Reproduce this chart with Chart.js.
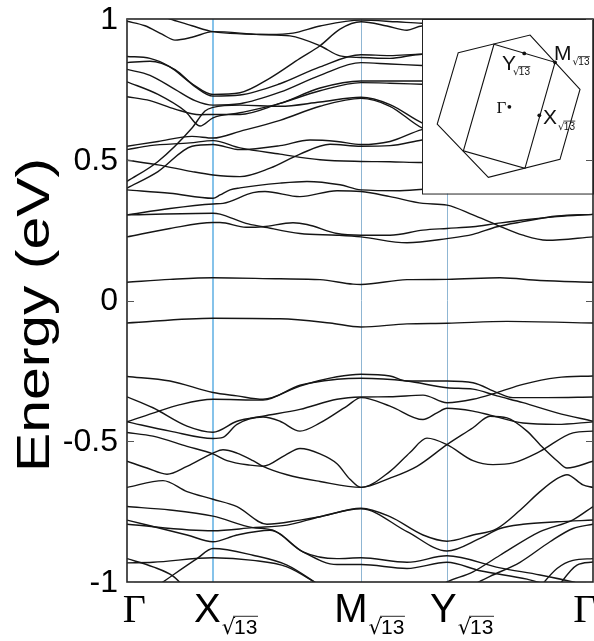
<!DOCTYPE html>
<html><head><meta charset="utf-8">
<script src="https://cdn.jsdelivr.net/npm/chart.js@4"></script>
<style>html,body{margin:0;padding:0;background:#fff}</style>
</head><body>
<canvas id="c" width="594" height="641"></canvas>
<script>
// k-path positions (Γ, X, M, Y, Γ) and labels
const kTicks = [0, 86, 234, 320, 466];
const kLabels = ['Γ', 'X', 'M', 'Y', 'Γ'];
const kSub = [false, true, true, true, false];
const yTicks = [1, 0.5, 0, -0.5, -1];
const yTickText = ['1', '0.5', '0', '-0.5', '-1'];

// bands: [k, energy (eV)]
const bandU01 = [[0,1.04],[23,1.02],[43,1.0],[65,0.976],[86,0.955],[143,0.945],[166,0.95],[193,0.975],[234,0.996],[270,0.99],[295,0.985],[320,1.0],[466,1.04]];
const bandU02 = [[0,0.992],[18,0.976],[35,0.946],[48,0.925],[65,0.935],[86,0.955],[133,0.945],[163,0.94],[193,0.905],[213,0.869],[234,0.863],[263,0.86],[295,0.875],[320,0.87],[466,0.992]];
const bandU03 = [[0,0.867],[23,0.86],[43,0.83],[65,0.77],[86,0.732],[113,0.738],[143,0.79],[173,0.86],[193,0.905],[213,0.964],[234,0.99],[260,0.975],[280,0.96],[295,0.975],[320,0.95],[466,0.867]];
const bandU04 = [[0,0.845],[23,0.85],[48,0.82],[68,0.76],[86,0.726],[113,0.73],[153,0.77],[193,0.83],[234,0.873],[263,0.87],[295,0.875],[320,0.86],[466,0.845]];
const bandU05 = [[0,0.821],[23,0.80],[48,0.75],[68,0.71],[86,0.694],[113,0.699],[153,0.74],[193,0.80],[234,0.845],[263,0.84],[295,0.835],[320,0.83],[466,0.821]];
const bandU06 = [[0,0.777],[31,0.732],[58,0.673],[73,0.62],[86,0.649],[113,0.667],[153,0.70],[193,0.755],[234,0.78],[263,0.78],[295,0.78],[320,0.78],[466,0.777]];
const bandU07 = [[0,0.724],[23,0.71],[48,0.68],[73,0.66],[86,0.661],[113,0.661],[153,0.70],[193,0.745],[234,0.774],[263,0.772],[295,0.768],[320,0.765],[466,0.724]];
const bandU08 = [[0,0.423],[31,0.494],[65,0.613],[78,0.673],[86,0.686],[113,0.694],[153,0.69],[193,0.705],[234,0.722],[263,0.696],[295,0.631],[320,0.60],[466,0.423]];
const bandU09 = [[0,0.548],[31,0.565],[65,0.583],[86,0.577],[113,0.601],[153,0.64],[193,0.69],[234,0.718],[263,0.69],[295,0.613],[320,0.59],[466,0.548]];
const bandU10 = [[0,0.536],[23,0.55],[63,0.56],[86,0.568],[113,0.542],[153,0.52],[193,0.50],[234,0.494],[263,0.493],[295,0.49],[320,0.49],[466,0.536]];
const bandU11 = [[0,0.399],[31,0.458],[65,0.548],[86,0.554],[113,0.536],[153,0.55],[183,0.57],[210,0.565],[234,0.554],[263,0.565],[295,0.607],[320,0.62],[466,0.399]];
const bandU12 = [[0,0.498],[31,0.482],[65,0.458],[86,0.446],[113,0.44],[143,0.47],[173,0.52],[203,0.555],[234,0.548],[263,0.55],[295,0.57],[320,0.58],[466,0.498]];
const bandU13 = [[0,0.393],[43,0.381],[86,0.363],[93,0.375],[103,0.393],[113,0.40],[153,0.417],[180,0.423],[213,0.411],[234,0.393],[273,0.39],[320,0.40],[466,0.393]];
const bandP2 = [[0,0.304],[43,0.327],[86,0.343],[96,0.345],[126,0.383],[138,0.387],[173,0.369],[210,0.39],[234,0.387],[263,0.369],[296,0.345],[320,0.339],[346,0.304],[370,0.268],[396,0.232],[420,0.214],[466,0.226]];
const bandP3 = [[0,0.304],[86,0.31],[93,0.307],[119,0.274],[136,0.262],[173,0.238],[210,0.232],[234,0.226],[280,0.205],[320,0.22],[346,0.235],[370,0.262],[396,0.28],[430,0.30],[466,0.306]];
const bandP4 = [[0,0.226],[43,0.256],[86,0.277],[93,0.277],[119,0.26],[136,0.262],[166,0.276],[180,0.27],[210,0.238],[234,0.232],[263,0.232],[296,0.25],[320,0.256],[346,0.262],[370,0.274],[396,0.286],[430,0.298],[466,0.306]];
const bandF1 = [[0,0.065],[43,0.075],[86,0.081],[153,0.077],[193,0.074],[226,0.058],[234,0.057],[280,0.074],[320,0.075],[373,0.081],[413,0.071],[466,0.065]];
const bandF2 = [[0,-0.080],[86,-0.063],[153,-0.065],[203,-0.08],[234,-0.094],[280,-0.083],[320,-0.081],[380,-0.074],[466,-0.080]];
const bandB1 = [[0,-0.270],[43,-0.286],[86,-0.327],[110,-0.339],[136,-0.351],[173,-0.304],[210,-0.271],[234,-0.262],[263,-0.268],[280,-0.286],[320,-0.286],[346,-0.292],[370,-0.327],[386,-0.345],[420,-0.345],[466,-0.343]];
const bandB2 = [[0,-0.431],[26,-0.40],[53,-0.37],[86,-0.351],[136,-0.354],[173,-0.301],[210,-0.280],[234,-0.276],[280,-0.286],[320,-0.31],[346,-0.315],[370,-0.339],[396,-0.363],[430,-0.399],[466,-0.429]];
const bandB3 = [[0,-0.342],[26,-0.381],[60,-0.446],[86,-0.468],[110,-0.429],[136,-0.411],[173,-0.387],[210,-0.351],[234,-0.343],[263,-0.342],[296,-0.336],[320,-0.363],[346,-0.351],[370,-0.327],[396,-0.298],[430,-0.274],[466,-0.268]];
const bandB4 = [[0,-0.431],[43,-0.464],[86,-0.490],[96,-0.486],[110,-0.44],[136,-0.414],[153,-0.429],[173,-0.464],[193,-0.435],[220,-0.375],[234,-0.345],[263,-0.375],[296,-0.423],[310,-0.399],[320,-0.383],[346,-0.393],[363,-0.407],[396,-0.435],[430,-0.44],[466,-0.431]];
const bandV1 = [[0,-0.469],[26,-0.482],[60,-0.518],[86,-0.545],[100,-0.569],[123,-0.585],[136,-0.589],[158,-0.55],[173,-0.526],[193,-0.545],[210,-0.58],[223,-0.635],[234,-0.664],[263,-0.607],[283,-0.54],[300,-0.489],[320,-0.512],[346,-0.569],[366,-0.583],[386,-0.577],[413,-0.536],[446,-0.47],[466,-0.464]];
const bandV2 = [[0,-0.571],[20,-0.595],[40,-0.617],[60,-0.589],[86,-0.542],[96,-0.53],[110,-0.542],[126,-0.569],[136,-0.589],[160,-0.619],[193,-0.643],[234,-0.664],[263,-0.631],[290,-0.589],[320,-0.512],[346,-0.452],[363,-0.411],[380,-0.417],[400,-0.464],[413,-0.512],[430,-0.569],[440,-0.595],[466,-0.571]];
const bandG1 = [[0,-0.664],[36,-0.64],[60,-0.679],[86,-0.706],[110,-0.732],[140,-0.795],[173,-0.78],[193,-0.768],[234,-0.738],[263,-0.768],[296,-0.833],[320,-0.855],[346,-0.833],[370,-0.81],[393,-0.745],[413,-0.679],[430,-0.633],[440,-0.619],[456,-0.655],[466,-0.664]];
const bandG2 = [[0,-0.732],[43,-0.744],[86,-0.766],[126,-0.807],[146,-0.816],[176,-0.893],[210,-0.917],[234,-0.914],[280,-0.93],[320,-0.907],[373,-0.95],[413,-0.975],[446,-1.0],[466,-1.02]];
const bandG3 = [[0,-0.78],[60,-0.833],[86,-0.857],[110,-0.833],[143,-0.816],[176,-0.893],[210,-0.938],[234,-0.938],[280,-0.952],[320,-0.93],[353,-0.96],[400,-0.99],[430,-1.02]];
const bandG4 = [[0,-0.795],[86,-0.818],[126,-0.807],[160,-0.798],[193,-0.768],[234,-0.74],[280,-0.821],[320,-0.89],[353,-0.845],[373,-0.81],[396,-0.795],[430,-0.786],[466,-0.78]];
const bandR1 = [[305,-1.03],[320,-1.0],[346,-0.964],[373,-0.905],[413,-0.821],[446,-0.779],[466,-0.732]];
const bandR2 = [[335,-1.03],[363,-0.98],[393,-0.93],[423,-0.857],[446,-0.81],[466,-0.795]];
const bandS1 = [[410,-1.03],[430,-0.952],[446,-0.923],[466,-0.917]];
const bandS2 = [[428,-1.03],[450,-0.94],[466,-0.929]];
const bandH1 = [[0,-0.917],[26,-0.946],[46,-0.979],[58,-1.02]];
const bandH2 = [[0,-0.932],[26,-0.93],[86,-0.914],[126,-0.923],[160,-0.946],[192,-1.01]];
const bandH3 = [[28,-1.02],[46,-0.975],[70,-0.917],[86,-0.881],[126,-0.905],[160,-0.94],[192,-1.01]];

const bands = [bandU01,bandU02,bandU03,bandU04,bandU05,bandU06,bandU07,bandU08,bandU09,bandU10,bandU11,bandU12,bandU13,
  bandP2,bandP3,bandP4,bandF1,bandF2,bandB1,bandB2,bandB3,bandB4,bandV1,bandV2,bandG1,bandG2,bandG3,bandG4,
  bandR1,bandR2,bandS1,bandS2,bandH1,bandH2,bandH3];

// inset Brillouin-zone sketch (fractions of the inset box)
const insetK = [295, 0.38]; // inset lower-left corner in data units
const bzOuter = [[0.212,0.193],[0.632,0.092],[0.924,0.403],[0.807,0.804],[0.388,0.907],[0.089,0.602]];
const bzInner = [[0.421,0.145],[0.778,0.248],[0.602,0.856],[0.242,0.755]];
const bzDots = [[0.511,0.503],[0.598,0.197],[0.778,0.248],[0.686,0.552]];

function drawSqrt13(ctx, x, base, size) {
  ctx.font = size + 'px "DejaVu Sans"';
  ctx.textAlign = 'left'; ctx.textBaseline = 'alphabetic';
  ctx.fillText('√', x, base);
  const w = ctx.measureText('√').width;
  ctx.font = size + 'px "Liberation Sans"';
  ctx.fillText('13', x + w - size*0.05, base);
  const w2 = ctx.measureText('13').width;
  ctx.lineWidth = Math.max(0.8, size*0.06);
  ctx.beginPath();
  ctx.moveTo(x + w*0.85, base - size*0.84);
  ctx.lineTo(x + w + w2 - size*0.02, base - size*0.84);
  ctx.stroke();
}

const deco = {
  id: 'deco',
  beforeDatasetsDraw(chart) {
    const {ctx, chartArea: a, scales: {x}} = chart;
    ctx.save();
    const vl = [[1, '#86c3ea', 2], [2, '#8fb6d3', 1], [3, '#8fb6d3', 1]];
    vl.forEach(([i, c, w]) => {
      const px = Math.round(x.getPixelForValue(kTicks[i])) + (w === 1 ? 0.5 : 0);
      ctx.strokeStyle = c; ctx.lineWidth = w;
      ctx.beginPath(); ctx.moveTo(px, a.top); ctx.lineTo(px, a.bottom); ctx.stroke();
    });
    ctx.restore();
  },
  afterDatasetsDraw(chart) {
    const {ctx, chartArea: a, scales: {x, y}} = chart;
    ctx.save();
    // inset
    const L = x.getPixelForValue(insetK[0]), T = a.top, R = a.right, B = y.getPixelForValue(insetK[1]);
    const W = R - L, H = B - T;
    ctx.fillStyle = '#fff'; ctx.fillRect(L, T, W, H);
    ctx.strokeStyle = '#222'; ctx.lineWidth = 1;
    ctx.strokeRect(L + 0.5, T + 0.5, W, H);
    const P = p => [L + p[0]*W, T + p[1]*H];
    [bzOuter, bzInner].forEach(poly => {
      ctx.beginPath();
      poly.forEach((p, i) => { const [u, v] = P(p); i ? ctx.lineTo(u, v) : ctx.moveTo(u, v); });
      ctx.closePath(); ctx.lineWidth = 1.1; ctx.strokeStyle = '#111'; ctx.stroke();
    });
    ctx.fillStyle = '#111';
    bzDots.forEach(p => { const [u, v] = P(p); ctx.beginPath(); ctx.arc(u, v, 1.9, 0, Math.PI*2); ctx.fill(); });
    ctx.textBaseline = 'alphabetic'; ctx.textAlign = 'left';
    ctx.font = '17px "Liberation Serif"';
    ctx.fillText('Γ', L + 74.5, T + 93.5);
    ctx.font = '21px "Liberation Sans"';
    ctx.fillText('Y', L + 80, T + 51);
    ctx.fillText('M', L + 132, T + 40.5);
    ctx.fillText('X', L + 121, T + 104.5);
    ctx.strokeStyle = '#111';
    drawSqrt13(ctx, L + 91, T + 56, 10);
    drawSqrt13(ctx, L + 150.5, T + 46, 10);
    drawSqrt13(ctx, L + 136, T + 110.5, 10);

    // frame
    ctx.strokeStyle = '#262626'; ctx.lineWidth = 1.6;
    ctx.strokeRect(a.left, a.top, a.right - a.left, a.bottom - a.top);
    // inward y ticks
    ctx.strokeStyle = '#555'; ctx.lineWidth = 1;
    yTicks.forEach(v => {
      const py = Math.round(y.getPixelForValue(v)) + 0.5;
      ctx.beginPath(); ctx.moveTo(a.left, py); ctx.lineTo(a.left + 7, py); ctx.stroke();
      ctx.beginPath(); ctx.moveTo(a.right - 7, py); ctx.lineTo(a.right, py); ctx.stroke();
    });
    // y tick labels
    ctx.fillStyle = '#000';
    ctx.font = '32px "Liberation Sans"';
    ctx.textAlign = 'right'; ctx.textBaseline = 'middle';
    yTicks.forEach((v, i) => ctx.fillText(yTickText[i], 118, y.getPixelForValue(v) + 1));
    // y title
    ctx.save();
    ctx.translate(36, 315); ctx.rotate(-Math.PI/2);
    ctx.textAlign = 'center'; ctx.textBaseline = 'middle';
    ctx.font = '46px "Liberation Sans"';
    ctx.scale(1.28, 1);
    ctx.fillText('Energy (eV)', 0, 0);
    ctx.restore();
    // x labels
    const dx = [-4.3, -19, -26.7, -17, -19.7];
    kTicks.forEach((k, i) => {
      const px = x.getPixelForValue(k) + dx[i];
      ctx.textAlign = 'left'; ctx.textBaseline = 'alphabetic';
      if (kLabels[i] === 'Γ') { ctx.font = '40px "Liberation Serif"'; }
      else { ctx.font = '40px "Liberation Sans"'; }
      ctx.fillText(kLabels[i], px, 622);
      const w = ctx.measureText(kLabels[i]).width;
      if (kSub[i]) drawSqrt13(ctx, px + w + 1, 634, 21);
    });
    ctx.restore();
  }
};

new Chart(document.getElementById('c'), {
  type: 'line',
  data: { datasets: bands.map(b => ({ data: b, borderColor: '#151515', borderWidth: 1.4, pointRadius: 0, fill: false, cubicInterpolationMode: 'monotone' })) },
  options: {
    responsive: false, animation: false, devicePixelRatio: 1, events: [],
    layout: { padding: { left: 127, top: 19, right: 1, bottom: 59 } },
    scales: {
      x: { type: 'linear', min: 0, max: 466, display: false },
      y: { type: 'linear', min: -1, max: 1, display: false }
    },
    plugins: { legend: { display: false }, tooltip: { enabled: false } }
  },
  plugins: [deco]
});
</script>
</body></html>
